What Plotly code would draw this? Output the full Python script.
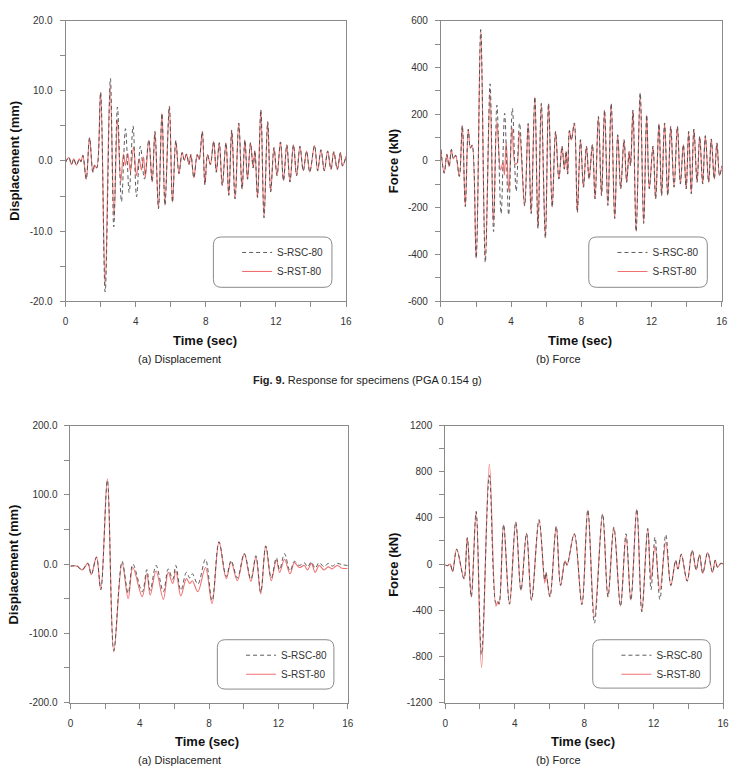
import plotly.graph_objects as go

W, H = 738, 777

# ---------------- data (extreme points of each record) -------------
# Panel (a) top: displacement, PGA 0.154 g
p1_pre_t = [0.00, 0.19, 0.34, 0.47, 0.62, 0.79, 0.88, 0.99, 1.18, 1.37, 1.56, 1.66, 1.78, 2.00]
p1_pre_v = [-0.2, 0.5, -0.5, 0.3, -0.6, 0.3, -0.1, 0.8, -2.6, 3.3, -1.6, -0.6, -1.0, 9.8]
p1_rst_mid_t = [2.26, 2.54, 2.77, 2.96, 3.15, 3.30, 3.42, 3.55, 3.70, 3.88, 4.04, 4.20, 4.33, 4.45, 4.55]
p1_rst_mid_v = [-17.8, 10.8, -8.0, 5.9, -3.0, 1.0, -0.6, 1.1, -1.5, 2.0, -2.1, 0.3, -1.3, 0.6, -2.3]
p1_rsc_mid_t = [2.26, 2.56, 2.75, 2.96, 3.19, 3.42, 3.63, 3.85, 4.05, 4.27, 4.50]
p1_rsc_mid_v = [-18.7, 11.8, -9.4, 7.7, -5.8, 4.6, -4.5, 5.0, -5.1, 2.1, -2.6]
p1_post_t = [4.75, 4.94, 5.10, 5.30, 5.50, 5.67, 5.92, 6.10, 6.29, 6.47, 6.65, 6.78, 6.90, 7.04,
             7.15, 7.32, 7.51, 7.62, 7.80, 7.95, 8.10, 8.26, 8.45, 8.60, 8.77, 8.94, 9.15, 9.31,
             9.48, 9.67, 9.88, 10.07, 10.23, 10.38, 10.55, 10.70, 10.80, 10.95, 11.14, 11.32,
             11.53, 11.70, 11.89, 12.06, 12.26, 12.43, 12.62, 12.80, 13.00, 13.18, 13.37, 13.56,
             13.75, 13.93, 14.20, 14.38, 14.57, 14.76, 14.95, 15.14, 15.30, 15.50, 15.68, 15.80, 16.00]
p1_post_v = [3.0, -3.0, 4.2, -6.8, 6.8, -6.3, 7.8, -5.9, 2.9, -1.8, 1.2, 0.1, 1.0, -0.5,
             0.9, -2.4, 0.9, 0.2, 4.2, -3.4, 0.9, -0.5, 2.8, -1.6, 2.6, -3.5, 2.6, -4.9,
             4.4, -5.4, 5.4, -4.0, 3.0, -2.6, 2.6, -1.0, 1.5, -5.2, 7.3, -8.1,
             5.6, -4.4, 1.9, -2.1, 2.7, -2.8, 2.3, -3.0, 2.3, -2.1, 2.1, -1.4,
             1.4, -1.6, 2.2, -1.4, 1.6, -1.4, 1.4, -1.2, 1.3, -1.2, 1.2, -0.7, 0.7]

# Panel (b) top: force, PGA 0.154 g
p2_pre_t = [0.00, 0.19, 0.34, 0.47, 0.60, 0.71, 0.84, 1.05, 1.22, 1.39, 1.56, 1.68, 1.78, 2.01, 2.27]
p2_pre_v = [49, -52, 28, -24, 49, 10, 24, -66, 152, -195, 136, 55, 68, -416, 562]
p2_rst_mid_t = [2.53, 2.80, 2.99, 3.19, 3.40, 3.54, 3.62, 3.72, 3.87, 4.05, 4.22, 4.32, 4.48]
p2_rst_mid_v = [-421, 292, -262, 168, -38, -8, -60, 80, -130, 143, -10, -12, 122]
p2_rsc_mid_t = [2.53, 2.80, 3.00, 3.19, 3.43, 3.63, 3.86, 4.07, 4.29, 4.48]
p2_rsc_mid_v = [-435, 330, -302, 239, -226, 204, -231, 225, -130, 162]
p2_post_t = [4.77, 4.97, 5.14, 5.35, 5.53, 5.72, 5.95, 6.13, 6.34, 6.53, 6.72, 6.90, 7.03, 7.13,
             7.22, 7.32, 7.43, 7.60, 7.77, 7.95, 8.12, 8.29, 8.44, 8.63, 8.78, 8.97, 9.15, 9.32,
             9.51, 9.70, 9.90, 10.07, 10.24, 10.43, 10.58, 10.72, 10.80, 10.94, 11.12, 11.35,
             11.55, 11.72, 11.87, 12.08, 12.23, 12.42, 12.57, 12.74, 12.92, 13.09, 13.28, 13.47,
             13.64, 13.81, 13.97, 14.11, 14.26, 14.41, 14.59, 14.74, 14.91, 15.06, 15.25, 15.40,
             15.57, 15.72, 15.87, 16.00]
p2_post_v = [-192, 160, -225, 274, -288, 246, -330, 246, -197, 126, -77, 63, -35, 42,
             -56, 130, 90, 162, -220, 91, -112, 63, -77, 70, -162, 190, -148, 218,
             -190, 246, -246, 112, -119, 91, -91, 40, -20, 218, -302, 291,
             -267, 197, -119, 63, -162, 159, -148, 162, -148, 148, -112, 148,
             -98, 70, -119, 126, -140, 136, -91, 105, -98, 108, -91, 94,
             -77, 77, -63, -21]

# Panel (a) bottom: displacement
p3_rst_t = [0.00, 0.38, 0.67, 1.00, 1.20, 1.50, 1.75, 2.13, 2.50, 2.98, 3.33, 3.60, 4.14, 4.41,
            4.60, 4.94, 5.36, 5.64, 5.90, 6.08, 6.37, 6.69, 6.88, 7.03, 7.35, 7.79, 8.17, 8.57,
            8.99, 9.27, 9.63, 10.03, 10.41, 10.70, 10.98, 11.27, 11.59, 11.88, 12.07, 12.35,
            12.67, 12.92, 13.20, 13.49, 13.68, 13.90, 14.12, 14.35, 14.63, 14.88, 15.10, 15.39,
            15.68, 16.00]
p3_rst_v = [-3, -3, -8.5, 1, -15, 10, -37, 123, -127, 2, -50, -5, -47, -14,
            -45, -10, -51, -12, -28, -10, -46, -21, -28, -24, -40, -5, -57, 32,
            -21, 3, -24, 15, -25, 10, -43, 26, -24, 6, -12, 7,
            -14, 2, -5, -2, -8.5, 1, -12, -2, -8.5, -4, -7, -2,
            -6, -6]
p3_rsc_t = p3_rst_t
p3_rsc_v = [-3, -3, -8.5, 1, -15, 10, -37, 121, -125, 4, -42, 0, -40, -8,
            -38, -2, -40, -7, -22, -2, -38, -12, -20, -14, -29, 7, -53, 32,
            -18, 5, -20, 15, -22, 12, -41, 26, -20, 9, -8, 15,
            -10, 4, -2, 2, -4, 3, -6, 2, -4, 1, -3, 1,
            -1, -2]

# Panel (b) bottom: force
p4_t = [0.00, 0.13, 0.28, 0.42, 0.66, 1.08, 1.27, 1.50, 1.78, 2.09, 2.54, 2.92, 3.02, 3.10,
        3.36, 3.70, 4.06, 4.36, 4.68, 4.97, 5.40, 5.73, 5.80, 6.03, 6.39, 6.64, 6.90, 7.01,
        7.43, 7.87, 8.21, 8.59, 9.06, 9.37, 9.71, 10.09, 10.41, 10.69, 11.03, 11.32, 11.66,
        11.85, 12.08, 12.36, 12.70, 12.99, 13.27, 13.40, 13.59, 13.93, 14.22, 14.45, 14.64,
        14.83, 15.11, 15.39, 15.55, 15.68, 15.87, 16.00]
p4_rst_v = [-8, -14, 0, -65, 128, -128, 228, -284, 455, -896, 867, -364, -330, -350,
            341, -347, 364, -228, 265, -313, 384, -165, -80, -284, 327, -185, 28, -10,
            262, -350, 469, -461, 432, -284, 318, -364, 242, -313, 475, -412, 307,
            -137, 156, -228, 193, -185, 23, -43, 85, -148, 119, -51, 80,
            -80, 100, -71, 34, -28, 6, 0]
p4_rsc_v = [-8, -14, 0, -65, 128, -128, 228, -284, 455, -782, 768, -341, -320, -345,
            341, -347, 364, -228, 265, -313, 384, -140, -70, -284, 327, -185, 28, -10,
            262, -350, 469, -512, 432, -284, 318, -364, 262, -313, 475, -412, 307,
            -222, 233, -307, 256, -185, 34, -43, 85, -148, 119, -51, 80,
            -80, 100, -71, 34, -28, 6, 0]

# tick labels
x_tickvals = [0, 4, 8, 12, 16]
x_ticktext = ["0", "4", "8", "12", "16"]
y1_tickvals = [-20, -10, 0, 10, 20]
y1_ticktext = ["-20.0", "-10.0", "0.0", "10.0", "20.0"]
y2_tickvals = [-600, -400, -200, 0, 200, 400, 600]
y2_ticktext = ["-600", "-400", "-200", "0", "200", "400", "600"]
y3_tickvals = [-200, -100, 0, 100, 200]
y3_ticktext = ["-200.0", "-100.0", "0.0", "100.0", "200.0"]
y4_tickvals = [-1200, -800, -400, 0, 400, 800, 1200]
y4_ticktext = ["-1200", "-800", "-400", "0", "400", "800", "1200"]

series_names = ["S-RSC-80", "S-RST-80"]

# ---------------- build ----------------
RED = "#f07070"
DARK = "#4a4a4a"
AXC = "#8a8a8a"
FONT = "Liberation Sans, Arial, sans-serif"

def pxx(p):
    return p / W

def pxy(p):
    return 1 - p / H

panels = [
    # (x0px, x1px, ytop, ybot)
    (63.3, 347.3, 16, 300),
    (443.3, 727.7, 16, 300),
    (68.3, 349.0, 426, 706.7),
    (447.7, 729.0, 426, 706.7),
]

data_sets = [
    (p1_pre_t + p1_rsc_mid_t + p1_post_t, p1_pre_v + p1_rsc_mid_v + p1_post_v,
     p1_pre_t + p1_rst_mid_t + p1_post_t, p1_pre_v + p1_rst_mid_v + p1_post_v),
    (p2_pre_t + p2_rsc_mid_t + p2_post_t, p2_pre_v + p2_rsc_mid_v + p2_post_v,
     p2_pre_t + p2_rst_mid_t + p2_post_t, p2_pre_v + p2_rst_mid_v + p2_post_v),
    (p3_rsc_t, p3_rsc_v, p3_rst_t, p3_rst_v),
    (p4_t, p4_rsc_v, p4_t, p4_rst_v),
]

yticks = [(y1_tickvals, y1_ticktext, [-20, 20], 5),
          (y2_tickvals, y2_ticktext, [-600, 600], 100),
          (y3_tickvals, y3_ticktext, [-200, 200], 50),
          (y4_tickvals, y4_ticktext, [-1200, 1200], 200)]

legend_boxes = [(213, 333, 235, 286), (593, 713, 235, 286),
                (217, 335, 643, 693), (597, 716, 643, 692)]

fig = go.Figure()
layout = dict(width=W, height=H, margin=dict(l=0, r=0, t=0, b=0),
              paper_bgcolor="white", plot_bgcolor="white", showlegend=True,
              font=dict(family=FONT, color="#222"))

shapes = []
for i, ((x0, x1, yt, yb), (tc, vc, tr, vr), (tv, tt, rng, mdt), lb) in enumerate(
        zip(panels, data_sets, yticks, legend_boxes)):
    n = "" if i == 0 else str(i + 1)
    lg = "legend" if i == 0 else "legend" + str(i + 1)
    fig.add_trace(go.Scatter(x=tr, y=vr, mode="lines", name=series_names[1],
                             line=dict(color=RED, width=1.1, shape="spline", smoothing=1.0),
                             xaxis="x" + n, yaxis="y" + n, legend=lg, legendrank=2))
    fig.add_trace(go.Scatter(x=tc, y=vc, mode="lines", name=series_names[0],
                             line=dict(color=DARK, width=0.9, dash="4px,3px", shape="spline",
                                       smoothing=1.0),
                             xaxis="x" + n, yaxis="y" + n, legend=lg, legendrank=1))
    common = dict(showline=True, linecolor=AXC, linewidth=1, mirror=True, ticks="outside",
                  ticklen=5, tickcolor=AXC, tickwidth=1, showgrid=False, zeroline=False,
                  tickfont=dict(family=FONT, size=10, color="#333"))
    layout["xaxis" + n] = dict(common, domain=[pxx(x0), pxx(x1)], anchor="y" + n,
                               range=[0, 16], tickmode="array", tickvals=x_tickvals,
                               ticktext=x_ticktext, ticklabelstandoff=6,
                               minor=dict(ticks="outside", ticklen=5, tickcolor=AXC,
                                          tickmode="linear", tick0=0, dtick=2))
    layout["yaxis" + n] = dict(common, domain=[pxy(yb), pxy(yt)], anchor="x" + n,
                               range=rng, tickmode="array", tickvals=tv, ticktext=tt,
                               ticklabelstandoff=5,
                               minor=dict(ticks="outside", ticklen=5, tickcolor=AXC,
                                          tickmode="linear", tick0=0, dtick=mdt))
    bx0, bx1, by0, by1 = lb
    layout[lg] = dict(x=pxx(bx0 + 24), y=pxy(by0 + 1), xanchor="left", yanchor="top",
                      bgcolor="rgba(0,0,0,0)", borderwidth=0,
                      font=dict(family=FONT, size=10, color="#333"), tracegroupgap=0)
    # rounded legend frame
    r = 8
    X0, X1, Y0, Y1 = pxx(bx0), pxx(bx1), pxy(by0), pxy(by1)
    rx, ry = r / W, r / H
    path = (f"M{X0+rx},{Y0} L{X1-rx},{Y0} Q{X1},{Y0} {X1},{Y0-ry} "
            f"L{X1},{Y1+ry} Q{X1},{Y1} {X1-rx},{Y1} L{X0+rx},{Y1} Q{X0},{Y1} {X0},{Y1+ry} "
            f"L{X0},{Y0-ry} Q{X0},{Y0} {X0+rx},{Y0} Z")
    shapes.append(dict(type="path", path=path, xref="paper", yref="paper",
                       line=dict(color="#8a8a8a", width=1), fillcolor="rgba(0,0,0,0)",
                       layer="above"))

layout["shapes"] = shapes

def ann(text, xp, yp, size, bold=False, angle=0, color="#111"):
    return dict(text=("<b>%s</b>" % text) if bold else text, x=pxx(xp), y=pxy(yp),
                xref="paper", yref="paper", showarrow=False, textangle=angle,
                xanchor="center", yanchor="middle",
                font=dict(family=FONT, size=size, color=color))

annotations = [
    ann("Displacement (mm)", 12, 158, 13, True, -90),
    ann("Force (kN)", 396, 158, 13, True, -90),
    ann("Displacement (mm)", 11, 567, 13, True, -90),
    ann("Force (kN)", 396, 567, 13, True, -90),
    ann("Time (sec)", 204, 340, 13, True),
    ann("Time (sec)", 584, 340, 13, True),
    ann("Time (sec)", 207, 746, 13, True),
    ann("Time (sec)", 587, 746, 13, True),
    ann("(a) Displacement", 179, 359, 11, color="#222"),
    ann("(b) Force", 562, 359, 11, color="#222"),
    ann("(a) Displacement", 179, 765, 11, color="#222"),
    ann("(b) Force", 562, 765, 11, color="#222"),
    ann("<b>Fig. 9.</b> Response for specimens (PGA 0.154 g)", 369, 380, 11, color="#222"),
]
layout["annotations"] = annotations

fig.update_layout(**layout)
fig.write_html("out.html")
